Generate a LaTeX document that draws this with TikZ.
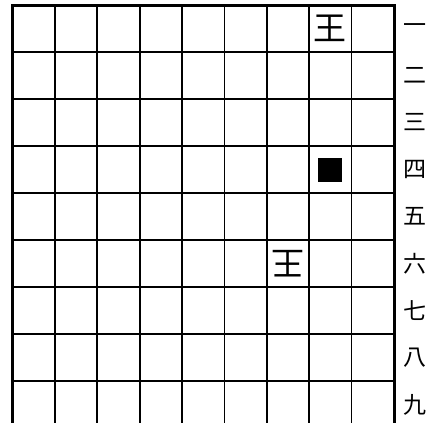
\documentclass[tikz,border=0pt]{standalone}
\usepackage{fontspec}
\newfontfamily\jpfont{Noto Sans CJK JP}
\usetikzlibrary{positioning}

\newcommand{\cellw}{42.39}
\newcommand{\cellh}{47}

\begin{document}
\begin{tikzpicture}[x=1pt, y=-1pt,
        gridline/.style={draw=black, line width=1.7pt},
        frame/.style={draw=black, line width=3pt},
        piece/.style={font=\fontsize{33}{33}\selectfont\jpfont, inner sep=0pt},
        stone/.style={rectangle, fill=black, minimum size=24pt, inner sep=0pt},
        rank/.style={font=\fontsize{23}{23}\selectfont\jpfont, inner sep=0pt}
    ]
        \clip (0,0) rectangle (429,423);

        % Lignes du plateau
        \foreach \i in {1,...,8}
            \draw[gridline] ({12.5+\i*\cellw},5) -- ++(0,430);
        \foreach \j in {1,...,8}
            \draw[gridline] (12.5,{5+\j*\cellh}) -- ++({9*\cellw},0);
        \draw[frame] (12.5,440) -- (12.5,5) -- ({12.5+9*\cellw},5) -- ({12.5+9*\cellw},440);

        % Pieces
        \node[piece] (kinga) at ({12.5+7.5*\cellw},{5+0.5*\cellh}) {王};
        \node[stone] (mark) at ({12.5+7.5*\cellw},{5+3.5*\cellh}) {};
        \node[piece, rotate=180] (kingb) at ({12.5+6.5*\cellw},{5+5.5*\cellh}) {王};

        % Rangees
        \foreach \k [count=\r from 0] in {一,二,三,四,五,六,七,八,九}
            \node[rank] (r\r) at (415,{5+(\r+0.5)*\cellh}) {\k};
    \end{tikzpicture}
\end{document}
